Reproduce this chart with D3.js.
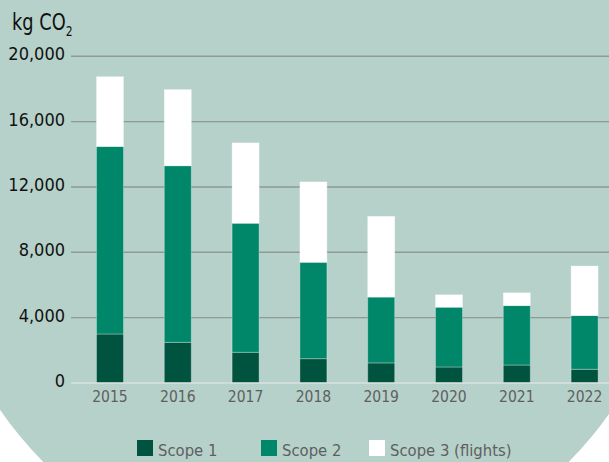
<!DOCTYPE html>
<html>
<head>
<meta charset="utf-8">
<script src="https://cdn.jsdelivr.net/npm/d3@7"></script>
<style>
  html, body { margin: 0; padding: 0; background: #ffffff; }
  svg { display: block; }
  text { font-family: "DejaVu Sans Condensed", "DejaVu Sans", sans-serif; font-stretch: condensed; }
</style>
</head>
<body>
<svg id="chart" width="609" height="462"></svg>
<script>
const years = ["2015", "2016", "2017", "2018", "2019", "2020", "2021", "2022"];
const scope1 = [3000, 2490, 1880, 1490, 1230, 980, 1100, 840];
const scope2 = [11480, 10810, 7900, 5900, 4030, 3660, 3640, 3290];
const scope3 = [4270, 4660, 4920, 4920, 4940, 760, 780, 3030];
const yTicks = [0, 4000, 8000, 12000, 16000, 20000];
const seriesNames = ["Scope 1", "Scope 2", "Scope 3 (flights)"];
const seriesColors = ["#00543f", "#00876a", "#ffffff"];

const svg = d3.select("#chart");
const W = 609, H = 462;

// background: large teal circle over white
svg.append("rect").attr("width", W).attr("height", H).attr("fill", "#ffffff");
svg.append("circle").attr("cx", 306).attr("cy", 200).attr("r", 371).attr("fill", "#b5d1c9");

const y = d3.scaleLinear().domain([0, 20000]).range([383, 56.3]);
const x = d3.scaleBand().domain(years).range([76.1, 618.5]).paddingInner(0.602).paddingOuter(0.301);

// gridlines
svg.append("g").selectAll("line").data(yTicks.filter(d => d > 0)).join("line")
  .attr("x1", 71).attr("x2", W)
  .attr("y1", d => y(d)).attr("y2", d => y(d))
  .attr("stroke", "#8f9996").attr("stroke-width", 1.4);

// y tick labels
svg.append("g").selectAll("text").data(yTicks).join("text")
  .attr("x", 65).attr("y", d => y(d) + 4)
  .attr("text-anchor", "end")
  .attr("font-size", 18)
  .attr("fill", "#111")
  .text(d => d3.format(",")(d));

// stacked bars
const table = years.map((yr, i) => ({ year: yr, s1: scope1[i], s2: scope2[i], s3: scope3[i] }));
const stack = d3.stack().keys(["s1", "s2", "s3"])(table);

svg.append("g").selectAll("g").data(stack).join("g")
  .attr("fill", (d, i) => seriesColors[i])
  .selectAll("rect").data(d => d).join("rect")
  .attr("x", d => x(d.data.year))
  .attr("width", x.bandwidth())
  .attr("y", d => y(d[1]))
  .attr("height", d => y(d[0]) - y(d[1]))
  .attr("stroke", "rgba(255,255,255,0.3)")
  .attr("stroke-width", 1);

// baseline
svg.append("line")
  .attr("x1", 71).attr("x2", W)
  .attr("y1", y(0)).attr("y2", y(0))
  .attr("stroke", "#dbe0de").attr("stroke-width", 1.6);

// x labels
svg.append("g").selectAll("text").data(years).join("text")
  .attr("x", d => x(d) + x.bandwidth() / 2)
  .attr("y", 402)
  .attr("text-anchor", "middle")
  .attr("font-size", 15.5)
  .attr("fill", "#5f5f5f")
  .text(d => d);

// unit label
const unit = svg.append("text").attr("transform", "translate(12,30) scale(0.86,1)").attr("font-size", 23).attr("fill", "#111");
unit.append("tspan").text("kg CO");
unit.append("tspan").attr("font-size", 14).attr("dy", 6).text("2");

// legend
const legendX = [137, 261, 369];
const lg = svg.append("g").selectAll("g").data(seriesNames).join("g")
  .attr("transform", (d, i) => `translate(${legendX[i]},440)`);
lg.append("rect").attr("width", 16).attr("height", 16).attr("fill", (d, i) => seriesColors[i]);
lg.append("text").attr("x", 21).attr("y", 16).attr("font-size", 16.5).attr("fill", "#5f5f5f").text(d => d);
</script>
</body>
</html>
